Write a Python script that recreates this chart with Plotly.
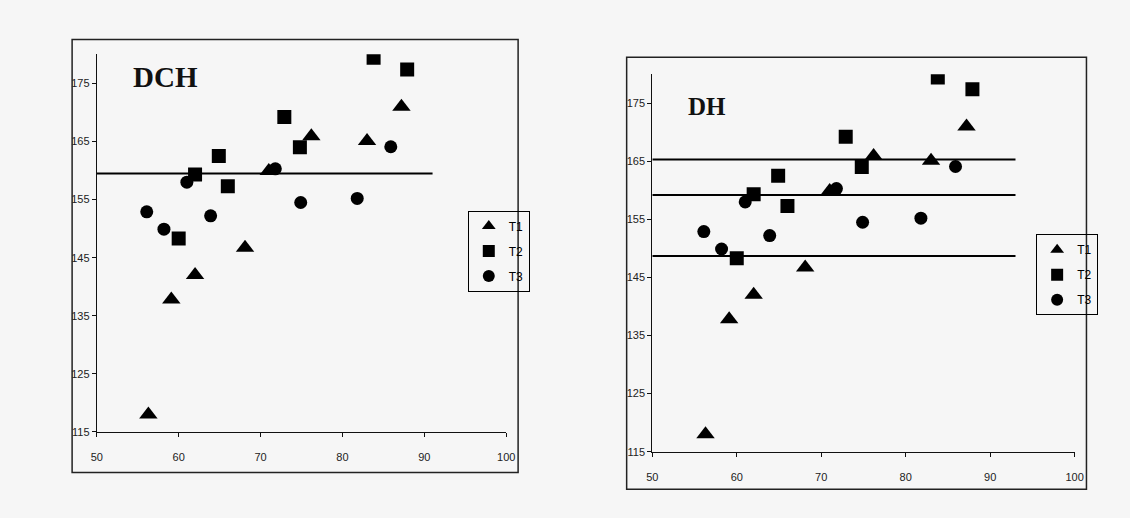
import plotly.graph_objects as go

t1_x = [56.3, 59.1, 62.0, 68.1, 71.0, 76.2, 83.0, 87.2]
t1_y = [118.0, 137.8, 142.0, 146.7, 159.9, 165.9, 165.1, 171.0]
t2_x = [60.0, 62.0, 64.9, 66.0, 72.9, 74.8, 83.8, 87.9]
t2_y = [148.3, 159.3, 162.5, 157.3, 169.2, 164.0, 179.4, 177.4]
t3_x = [56.1, 58.2, 61.0, 63.9, 71.8, 74.9, 81.8, 85.9]
t3_y = [152.9, 149.9, 158.0, 152.2, 160.3, 154.5, 155.2, 164.1]

dch_line_x = [50, 91]
dch_line_levels = [159.5]
dh_line_x = [50, 93]
dh_line_levels = [165.3, 159.2, 148.7]

x_ticks = [50, 60, 70, 80, 90, 100]
y_ticks = [115, 125, 135, 145, 155, 165, 175]
series_names = ["T1", "T2", "T3"]
panel_titles = ["DCH", "DH"]

W, H = 1130, 518
BG = "#f6f6f6"

fig = go.Figure()

symbols = ["triangle-up", "square", "circle"]
sizes = [16, 14, 13]
series = [(t1_x, t1_y), (t2_x, t2_y), (t3_x, t3_y)]

panels = [
    ("x", "y", "legend", dch_line_x, dch_line_levels),
    ("x2", "y2", "legend2", dh_line_x, dh_line_levels),
]

for pi, (xa, ya, leg, lx, levels) in enumerate(panels):
    for lv in levels:
        fig.add_trace(go.Scatter(
            x=lx, y=[lv, lv], mode="lines", xaxis=xa, yaxis=ya,
            line=dict(color="black", width=2), showlegend=False,
            hoverinfo="skip"))
    for si, (sx, sy) in enumerate(series):
        fig.add_trace(go.Scatter(
            x=sx, y=sy, mode="markers", name=series_names[si],
            xaxis=xa, yaxis=ya, legend=leg,
            legendgroup=f"p{pi}s{si}",
            marker=dict(symbol=symbols[si], size=sizes[si], color="black",
                        line=dict(width=0))))

tickfont = dict(family="Liberation Sans, Arial", size=11, color="#222")
axis_common = dict(showgrid=False, zeroline=False, showline=True,
                   linecolor="#111", linewidth=1, ticks="outside", ticklen=4,
                   tickcolor="#111", tickfont=tickfont, mirror=False)

def px_x(p):
    return p / W

def px_y(p):
    return 1 - p / H

legend_common = dict(xanchor="left", yanchor="top", bordercolor="black",
                     borderwidth=1, bgcolor="rgba(0,0,0,0)",
                     font=dict(family="Liberation Sans, Arial", size=12, color="black"),
                     tracegroupgap=6, itemwidth=30, itemsizing="constant")

fig.update_layout(
    width=W, height=H, autosize=False,
    margin=dict(l=0, r=0, t=0, b=0),
    paper_bgcolor=BG, plot_bgcolor=BG,
    showlegend=True,
    xaxis=dict(domain=[px_x(92), px_x(507)], range=[50, 100], tickvals=x_ticks,
               anchor="y", ticklabelstandoff=11, **axis_common),
    yaxis=dict(domain=[px_y(437), px_y(55)], range=[115, 180], tickvals=y_ticks,
               anchor="x", **axis_common),
    xaxis2=dict(domain=[px_x(655), px_x(1083)], range=[50, 100], tickvals=x_ticks,
                anchor="y2", ticklabelstandoff=11, **axis_common),
    yaxis2=dict(domain=[px_y(457), px_y(75)], range=[115, 180], tickvals=y_ticks,
                anchor="x2", **axis_common),
    legend=dict(x=px_x(468), y=px_y(213), **legend_common),
    legend2=dict(x=px_x(1044), y=px_y(237), **legend_common),
    shapes=[
        dict(type="rect", xref="paper", yref="paper",
             x0=px_x(67), x1=px_x(519), y0=px_y(478), y1=px_y(40),
             line=dict(color="#222", width=1.5), layer="below"),
        dict(type="rect", xref="paper", yref="paper",
             x0=px_x(629), x1=px_x(1095), y0=px_y(495), y1=px_y(58),
             line=dict(color="#222", width=1.5), layer="below"),
    ],
    annotations=[
        dict(text=f"<b>{panel_titles[0]}</b>", xref="paper", yref="paper",
             x=px_x(162), y=px_y(78), xanchor="center", yanchor="middle",
             showarrow=False,
             font=dict(family="Liberation Serif, Times New Roman", size=29, color="#111")),
        dict(text=f"<b>{panel_titles[1]}</b>", xref="paper", yref="paper",
             x=px_x(710), y=px_y(108), xanchor="center", yanchor="middle",
             showarrow=False,
             font=dict(family="Liberation Serif, Times New Roman", size=25, color="#111")),
    ],
)

fig.write_html("out.html")
